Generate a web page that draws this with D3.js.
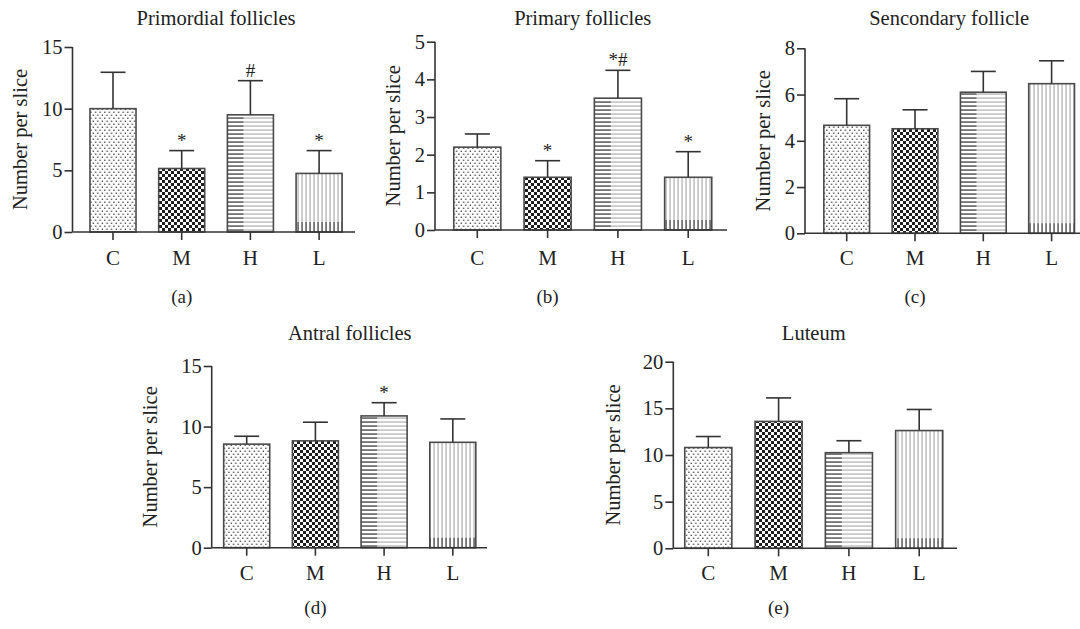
<!DOCTYPE html>
<html>
<head>
<meta charset="utf-8">
<script src="https://cdn.jsdelivr.net/npm/d3@7"></script>
<style>
  html, body { margin: 0; padding: 0; background: #fff; }
  svg { display: block; }
  text { font-family: "Liberation Serif", "DejaVu Serif", serif; fill: #222; }
</style>
</head>
<body>
<svg id="chart" width="1080" height="629"></svg>
<script>
// ---------- data ----------
const groups = ["C", "M", "H", "L"];
const panelTitles = ["Primordial follicles", "Primary follicles", "Sencondary follicle", "Antral follicles", "Luteum"];
const panelLetters = ["(a)", "(b)", "(c)", "(d)", "(e)"];
const yLabel = "Number per slice";

const primordialMean = [10.0, 5.15, 9.5, 4.75];
const primordialErr  = [2.95, 1.45, 2.77, 1.85];
const primaryMean    = [2.2, 1.4, 3.5, 1.4];
const primaryErr     = [0.35, 0.44, 0.74, 0.68];
const secondaryMean  = [4.67, 4.52, 6.1, 6.47];
const secondaryErr   = [1.15, 0.82, 0.9, 0.99];
const antralMean     = [8.55, 8.82, 10.88, 8.7];
const antralErr      = [0.65, 1.54, 1.09, 1.93];
const luteumMean     = [10.8, 13.6, 10.25, 12.62];
const luteumErr      = [1.18, 2.52, 1.28, 2.26];

const primordialSig = ["", "*", "#", "*"];
const primarySig    = ["", "*", "*#", "*"];
const secondarySig  = ["", "", "", ""];
const antralSig     = ["", "", "*", ""];
const luteumSig     = ["", "", "", ""];

const primordialTicks = [0, 5, 10, 15];
const primaryTicks    = [0, 1, 2, 3, 4, 5];
const secondaryTicks  = [0, 2, 4, 6, 8];
const antralTicks     = [0, 5, 10, 15];
const luteumTicks     = [0, 5, 10, 15, 20];

// ---------- layout ----------
const panels = [
  { mean: primordialMean, err: primordialErr, sig: primordialSig, ticks: primordialTicks,
    x0: 72.5, xEnd: 355, c0: 113, step: 68.7, yTop: 47, yBot: 232, ylx: 20, titleY: 18, xlabY: 258, letY: 296 },
  { mean: primaryMean, err: primaryErr, sig: primarySig, ticks: primaryTicks,
    x0: 435, xEnd: 727, c0: 477.3, step: 70.3, yTop: 41.7, yBot: 230, ylx: 393, titleY: 18, xlabY: 258, letY: 296 },
  { mean: secondaryMean, err: secondaryErr, sig: secondarySig, ticks: secondaryTicks,
    x0: 805, xEnd: 1087, c0: 846.7, step: 68.3, yTop: 48.3, yBot: 233.3, ylx: 763, titleY: 18, xlabY: 258, letY: 296 },
  { mean: antralMean, err: antralErr, sig: antralSig, ticks: antralTicks,
    x0: 211.7, xEnd: 487, c0: 246.7, step: 68.7, yTop: 366, yBot: 547.7, ylx: 150, titleY: 333, xlabY: 573, letY: 607 },
  { mean: luteumMean, err: luteumErr, sig: luteumSig, ticks: luteumTicks,
    x0: 673.3, xEnd: 957, c0: 708.3, step: 70.3, yTop: 361.7, yBot: 548.3, ylx: 613, titleY: 333, xlabY: 573, letY: 607 }
];

const svg = d3.select("#chart");
const defs = svg.append("defs");

// dots pattern
const pDots = defs.append("pattern").attr("id", "pDots").attr("patternUnits", "userSpaceOnUse")
  .attr("width", 4.6).attr("height", 6);
pDots.append("rect").attr("width", 4.6).attr("height", 6).attr("fill", "#fff");
pDots.append("rect").attr("x", 0.6).attr("y", 0.6).attr("width", 1.3).attr("height", 1.3).attr("fill", "#333");
pDots.append("rect").attr("x", 2.9).attr("y", 3.6).attr("width", 1.3).attr("height", 1.3).attr("fill", "#333");

// checker pattern
const pCheck = defs.append("pattern").attr("id", "pCheck").attr("patternUnits", "userSpaceOnUse")
  .attr("width", 6).attr("height", 6);
pCheck.append("rect").attr("width", 6).attr("height", 6).attr("fill", "#fff");
pCheck.append("rect").attr("x", 0).attr("y", 0).attr("width", 3).attr("height", 3).attr("fill", "#1e1e1e");
pCheck.append("rect").attr("x", 3).attr("y", 3).attr("width", 3).attr("height", 3).attr("fill", "#1e1e1e");

// horizontal lines (gray / dark)
function hLines(id, color) {
  const p = defs.append("pattern").attr("id", id).attr("patternUnits", "userSpaceOnUse")
    .attr("width", 6).attr("height", 4);
  p.append("rect").attr("width", 6).attr("height", 4).attr("fill", "#fff");
  p.append("rect").attr("x", 0).attr("y", 1.5).attr("width", 6).attr("height", 1.1).attr("fill", color);
}
hLines("pHGray", "#a8a8a8");
hLines("pHDark", "#1a1a1a");

// vertical lines (gray / dark)
function vLines(id, color) {
  const p = defs.append("pattern").attr("id", id).attr("patternUnits", "userSpaceOnUse")
    .attr("width", 4).attr("height", 6);
  p.append("rect").attr("width", 4).attr("height", 6).attr("fill", "#fff");
  p.append("rect").attr("x", 1.5).attr("y", 0).attr("width", 1.1).attr("height", 6).attr("fill", color);
}
vLines("pVGray", "#a8a8a8");
vLines("pVDark", "#1a1a1a");

const fills = { C: "url(#pDots)", M: "url(#pCheck)", H: "url(#pHGray)", L: "url(#pVGray)" };

const AX = "#333";
const BAR_STROKE = "#4a4a4a";
const FS_TICK = 20.5, FS_XLAB = 21, FS_TITLE = 20.5, FS_YLAB = 20.5, FS_LET = 19, FS_SIG = 19;

panels.forEach((p, i) => {
  const g = svg.append("g");
  const x = d3.scaleBand().domain(groups)
    .range([p.c0 - p.step / 2, p.c0 + p.step * 3.5])
    .paddingInner(0.33).paddingOuter(0.165);
  const ymax = p.ticks[p.ticks.length - 1];
  const y = d3.scaleLinear().domain([0, ymax]).range([p.yBot, p.yTop]);
  const bw = x.bandwidth();

  const data = groups.map((k, j) => ({ k, v: p.mean[j], e: p.err[j], s: p.sig[j] }));

  // bars
  g.selectAll("rect.bar").data(data).enter().append("rect")
    .attr("class", "bar")
    .attr("x", d => x(d.k)).attr("width", bw)
    .attr("y", d => y(d.v)).attr("height", d => y(0) - y(d.v))
    .attr("fill", d => fills[d.k]);

  // dark overlays for H (left portion) and L (bottom portion)
  g.selectAll("rect.hdark").data(data.filter(d => d.k === "H")).enter().append("rect")
    .attr("x", d => x(d.k)).attr("width", bw * 0.35)
    .attr("y", d => y(d.v)).attr("height", d => y(0) - y(d.v))
    .attr("fill", "url(#pHDark)");
  g.selectAll("rect.ldark").data(data.filter(d => d.k === "L")).enter().append("rect")
    .attr("x", d => x(d.k)).attr("width", bw)
    .attr("y", d => y(0) - Math.min(10, y(0) - y(d.v))).attr("height", d => Math.min(10, y(0) - y(d.v)))
    .attr("fill", "url(#pVDark)");

  // bar outlines
  g.selectAll("rect.outline").data(data).enter().append("rect")
    .attr("x", d => x(d.k)).attr("width", bw)
    .attr("y", d => y(d.v)).attr("height", d => y(0) - y(d.v))
    .attr("fill", "none").attr("stroke", BAR_STROKE).attr("stroke-width", 1.6);

  // error bars
  const cap = 12.5;
  g.selectAll("line.err").data(data).enter().append("line")
    .attr("x1", d => x(d.k) + bw / 2).attr("x2", d => x(d.k) + bw / 2)
    .attr("y1", d => y(d.v)).attr("y2", d => y(d.v + d.e))
    .attr("stroke", AX).attr("stroke-width", 1.6);
  g.selectAll("line.cap").data(data).enter().append("line")
    .attr("x1", d => x(d.k) + bw / 2 - cap).attr("x2", d => x(d.k) + bw / 2 + cap)
    .attr("y1", d => y(d.v + d.e)).attr("y2", d => y(d.v + d.e))
    .attr("stroke", AX).attr("stroke-width", 1.6);

  // significance marks
  g.selectAll("text.sig").data(data.filter(d => d.s)).enter().append("text")
    .attr("x", d => x(d.k) + bw / 2).attr("y", d => y(d.v + d.e) - 4)
    .attr("text-anchor", "middle").attr("font-size", FS_SIG).text(d => d.s);

  // y axis
  const yAxis = g.append("g").attr("transform", `translate(${p.x0},0)`)
    .call(d3.axisLeft(y).tickValues(p.ticks).tickSize(8).tickPadding(2).tickFormat(d3.format("d")));
  yAxis.select(".domain").attr("d", `M0,${p.yTop}V${p.yBot}`).attr("stroke", AX).attr("stroke-width", 1.6);
  yAxis.selectAll(".tick line").attr("stroke", AX).attr("stroke-width", 1.6);
  yAxis.selectAll(".tick text").attr("font-size", FS_TICK).attr("font-family", "Liberation Serif").attr("fill", "#222");

  // x axis
  const xAxis = g.append("g").attr("transform", `translate(0,${p.yBot})`)
    .call(d3.axisBottom(x).tickSize(8).tickPadding(10));
  xAxis.select(".domain").attr("d", `M${p.x0},0H${p.xEnd}`).attr("stroke", AX).attr("stroke-width", 1.6);
  xAxis.selectAll(".tick line").attr("stroke", AX).attr("stroke-width", 1.6);
  xAxis.selectAll(".tick text").attr("font-size", FS_XLAB).attr("font-family", "Liberation Serif").attr("fill", "#222")
    .attr("dy", null).attr("y", p.xlabY - p.yBot).attr("dominant-baseline", "central");

  // title
  g.append("text").attr("x", (x("C") + x("L") + bw) / 2).attr("y", p.titleY)
    .attr("text-anchor", "middle").attr("dominant-baseline", "central").attr("font-size", FS_TITLE)
    .text(panelTitles[i]);

  // y label
  g.append("text").attr("transform", `translate(${p.ylx},${(p.yTop + p.yBot) / 2}) rotate(-90)`)
    .attr("text-anchor", "middle").attr("dominant-baseline", "central").attr("font-size", FS_YLAB)
    .text(yLabel);

  // panel letter
  g.append("text").attr("x", (x("M") + x("H") + bw) / 2 - p.step * 0.5).attr("y", p.letY)
    .attr("text-anchor", "middle").attr("dominant-baseline", "central").attr("font-size", FS_LET)
    .text(panelLetters[i]);
});
</script>
</body>
</html>
